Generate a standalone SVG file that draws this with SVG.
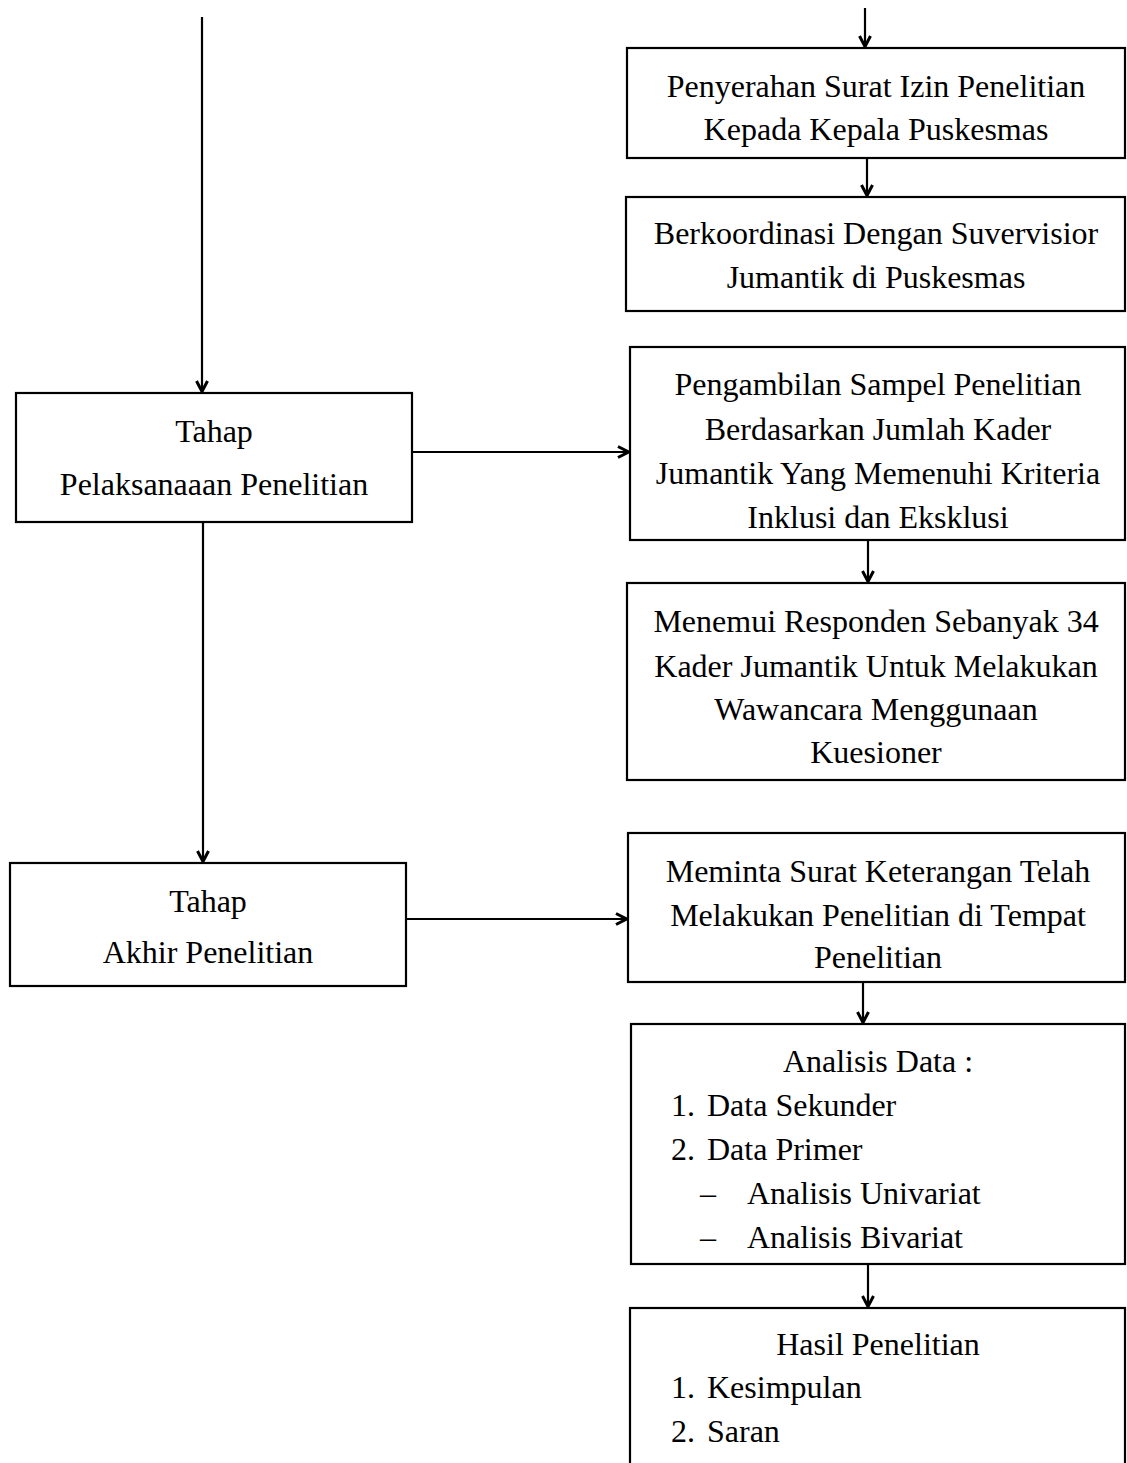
<svg xmlns="http://www.w3.org/2000/svg" width="1127" height="1463" viewBox="0 0 1127 1463">
<style>
.box{fill:#fff;stroke:#000;stroke-width:2.2}
.t{font-family:"Liberation Serif","Times New Roman",serif;font-size:32px;fill:#000}
.c{text-anchor:middle}
.ln{fill:none;stroke:#000;stroke-width:2.2}
</style>
<defs>
<marker id="ah" viewBox="0 0 14 14" refX="12.5" refY="7" markerWidth="14" markerHeight="14" markerUnits="userSpaceOnUse" orient="auto">
<path d="M1.5,1.5 L12,7 L1.5,12.5" fill="none" stroke="#000" stroke-width="3" stroke-linejoin="miter"/>
</marker>
</defs>
<rect width="1127" height="1463" fill="#fff"/>
<g id="connectors">
<line class="ln" x1="202" y1="17" x2="202" y2="392" marker-end="url(#ah)"/>
<line class="ln" x1="203" y1="522" x2="203" y2="862" marker-end="url(#ah)"/>
<line class="ln" x1="412" y1="452" x2="629" y2="452" marker-end="url(#ah)"/>
<line class="ln" x1="406" y1="919" x2="627" y2="919" marker-end="url(#ah)"/>
<line class="ln" x1="865" y1="8" x2="865" y2="47" marker-end="url(#ah)"/>
<line class="ln" x1="867" y1="158" x2="867" y2="196" marker-end="url(#ah)"/>
<line class="ln" x1="868" y1="540" x2="868" y2="582" marker-end="url(#ah)"/>
<line class="ln" x1="863" y1="982" x2="863" y2="1023" marker-end="url(#ah)"/>
<line class="ln" x1="868" y1="1264" x2="868" y2="1307" marker-end="url(#ah)"/>
</g>
<g id="node-pelaksanaan">
<rect class="box" x="16" y="393" width="396" height="129"/>
<text class="t c" x="214" y="442">Tahap</text>
<text class="t c" x="214" y="495">Pelaksanaaan Penelitian</text>
</g>
<g id="node-akhir">
<rect class="box" x="10" y="863" width="396" height="123"/>
<text class="t c" x="208" y="912">Tahap</text>
<text class="t c" x="208" y="963">Akhir Penelitian</text>
</g>
<g id="node-penyerahan">
<rect class="box" x="627" y="48" width="498" height="110"/>
<text class="t c" x="876" y="97">Penyerahan Surat Izin Penelitian</text>
<text class="t c" x="876" y="140">Kepada Kepala Puskesmas</text>
</g>
<g id="node-berkoordinasi">
<rect class="box" x="626" y="197" width="499" height="114"/>
<text class="t c" x="876" y="244">Berkoordinasi Dengan Suvervisior</text>
<text class="t c" x="876" y="288">Jumantik di Puskesmas</text>
</g>
<g id="node-pengambilan">
<rect class="box" x="630" y="347" width="495" height="193"/>
<text class="t c" x="878" y="395">Pengambilan Sampel Penelitian</text>
<text class="t c" x="878" y="440">Berdasarkan Jumlah Kader</text>
<text class="t c" x="878" y="484">Jumantik Yang Memenuhi Kriteria</text>
<text class="t c" x="878" y="528">Inklusi dan Eksklusi</text>
</g>
<g id="node-menemui">
<rect class="box" x="627" y="583" width="498" height="197"/>
<text class="t c" x="876" y="632">Menemui Responden Sebanyak 34</text>
<text class="t c" x="876" y="677">Kader Jumantik Untuk Melakukan</text>
<text class="t c" x="876" y="720">Wawancara Menggunaan</text>
<text class="t c" x="876" y="763">Kuesioner</text>
</g>
<g id="node-meminta">
<rect class="box" x="628" y="833" width="497" height="149"/>
<text class="t c" x="878" y="882">Meminta Surat Keterangan Telah</text>
<text class="t c" x="878" y="926">Melakukan Penelitian di Tempat</text>
<text class="t c" x="878" y="968">Penelitian</text>
</g>
<g id="node-analisis">
<rect class="box" x="631" y="1024" width="494" height="240"/>
<text class="t c" x="878" y="1072">Analisis Data :</text>
<text class="t" x="671" y="1116">1.</text>
<text class="t" x="707" y="1116">Data Sekunder</text>
<text class="t" x="671" y="1160">2.</text>
<text class="t" x="707" y="1160">Data Primer</text>
<text class="t" x="700" y="1204">–</text>
<text class="t" x="747" y="1204">Analisis Univariat</text>
<text class="t" x="700" y="1248">–</text>
<text class="t" x="747" y="1248">Analisis Bivariat</text>
</g>
<g id="node-hasil">
<rect class="box" x="630" y="1308" width="495" height="170"/>
<text class="t c" x="878" y="1355">Hasil Penelitian</text>
<text class="t" x="671" y="1398">1.</text>
<text class="t" x="707" y="1398">Kesimpulan</text>
<text class="t" x="671" y="1442">2.</text>
<text class="t" x="707" y="1442">Saran</text>
</g>
</svg>
